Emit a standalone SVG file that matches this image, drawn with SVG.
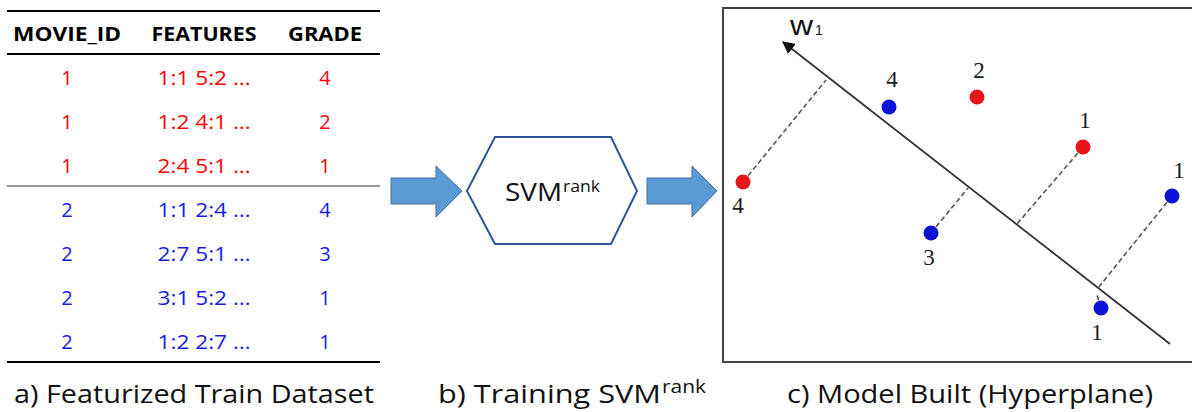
<svg xmlns="http://www.w3.org/2000/svg" width="1192" height="412" viewBox="0 0 1192 412">
<defs>
<style>
.hdr{font-family:"Open Sans","Liberation Sans",sans-serif;font-weight:bold;font-size:20px;fill:#000;text-anchor:middle}
.row{font-family:"Open Sans","Liberation Sans",sans-serif;font-size:20px;text-anchor:middle}
.r{fill:#FF0000}
.b{fill:#1A1AE6}
.cap{font-family:"Open Sans","Liberation Sans",sans-serif;font-size:26px;fill:#111}
.num{font-family:"Liberation Serif","Times New Roman",serif;font-size:23px;fill:#1a1a1a;text-anchor:middle}
.dash{stroke:#555;stroke-width:1.6;stroke-dasharray:5 3;fill:none}
.rd{fill:#E8141C}
.bd{fill:#0B14D6}
.blk{fill:#5B9BD5;stroke:#41719C;stroke-width:1}
</style>
<marker id="ah" viewBox="0 0 10 10" refX="9" refY="5" markerWidth="7" markerHeight="7" orient="auto-start-reverse" markerUnits="strokeWidth">
<path d="M0,0 L10,5 L0,10 z" fill="#111"/>
</marker>
</defs>
<rect width="1192" height="412" fill="#fff"/>

<g id="table">
<line x1="7" y1="11" x2="380" y2="11" stroke="#000" stroke-width="2"/>
<line x1="7" y1="54" x2="380" y2="54" stroke="#000" stroke-width="2"/>
<line x1="7" y1="186" x2="380" y2="186" stroke="#999" stroke-width="2"/>
<line x1="7" y1="362" x2="380" y2="362" stroke="#000" stroke-width="2"/>
<text class="hdr" x="67" y="41" textLength="108" lengthAdjust="spacingAndGlyphs">MOVIE_ID</text>
<text class="hdr" x="204" y="41" textLength="105" lengthAdjust="spacingAndGlyphs">FEATURES</text>
<text class="hdr" x="325" y="41" textLength="74" lengthAdjust="spacingAndGlyphs">GRADE</text>
<g class="row r">
<text x="67" y="85">1</text><text x="204" y="85" textLength="93" lengthAdjust="spacingAndGlyphs">1:1 5:2 …</text><text x="325" y="85">4</text>
<text x="67" y="129">1</text><text x="204" y="129" textLength="93" lengthAdjust="spacingAndGlyphs">1:2 4:1 …</text><text x="325" y="129">2</text>
<text x="67" y="173">1</text><text x="204" y="173" textLength="93" lengthAdjust="spacingAndGlyphs">2:4 5:1 …</text><text x="325" y="173">1</text>
</g>
<g class="row b">
<text x="67" y="217">2</text><text x="204" y="217" textLength="93" lengthAdjust="spacingAndGlyphs">1:1 2:4 …</text><text x="325" y="217">4</text>
<text x="67" y="261">2</text><text x="204" y="261" textLength="93" lengthAdjust="spacingAndGlyphs">2:7 5:1 …</text><text x="325" y="261">3</text>
<text x="67" y="305">2</text><text x="204" y="305" textLength="93" lengthAdjust="spacingAndGlyphs">3:1 5:2 …</text><text x="325" y="305">1</text>
<text x="67" y="349">2</text><text x="204" y="349" textLength="93" lengthAdjust="spacingAndGlyphs">1:2 2:7 …</text><text x="325" y="349">1</text>
</g>
<text class="cap" x="14" y="403" textLength="360" lengthAdjust="spacingAndGlyphs">a) Featurized Train Dataset</text>
</g>

<g id="svmrank">
<polygon points="495,137 611,137 637,191 611,244 495,244 467,191" fill="#fff" stroke="#2F5597" stroke-width="2"/>
<text x="505" y="201" font-family="'Open Sans','Liberation Sans',sans-serif" font-size="25" fill="#111" textLength="57" lengthAdjust="spacingAndGlyphs">SVM</text>
<text x="563" y="192" font-family="'Open Sans','Liberation Sans',sans-serif" font-size="16" fill="#111" textLength="37" lengthAdjust="spacingAndGlyphs">rank</text>
<text class="cap" x="438" y="403" textLength="223" lengthAdjust="spacingAndGlyphs">b) Training SVM</text>
<text x="662" y="393" font-family="'Open Sans','Liberation Sans',sans-serif" font-size="18" fill="#111" textLength="44" lengthAdjust="spacingAndGlyphs">rank</text>
</g>

<g id="connectors">
<polygon class="blk" points="391,178 436,178 436,166 462,191 436,217 436,204 391,204"/>
<polygon class="blk" points="647,178 692,178 692,166 717,191 692,217 692,204 647,204"/>
</g>

<g id="model">
<polyline points="1192,8 723,8 723,362 1192,362" fill="none" stroke="#444" stroke-width="2"/>
<line x1="1170" y1="344" x2="783" y2="42" stroke="#333" stroke-width="1.8" marker-end="url(#ah)"/>
<text x="790" y="35" font-family="'Liberation Sans',sans-serif" font-size="27" fill="#111" textLength="23" lengthAdjust="spacingAndGlyphs">w</text>
<text x="815" y="35" font-family="'Liberation Sans',sans-serif" font-size="14" fill="#111">1</text>
<line class="dash" x1="743" y1="182" x2="826" y2="80"/>
<line class="dash" x1="931" y1="233" x2="968" y2="188"/>
<line class="dash" x1="1083" y1="147" x2="1017" y2="224"/>
<line class="dash" x1="1172" y1="196" x2="1098" y2="288"/>
<line class="dash" x1="1101" y1="308" x2="1097" y2="295"/>
<circle class="rd" cx="743" cy="182" r="7.5"/>
<circle class="bd" cx="889" cy="107" r="7.5"/>
<circle class="rd" cx="977" cy="97" r="7.5"/>
<circle class="rd" cx="1083" cy="147" r="7.5"/>
<circle class="bd" cx="1172" cy="196" r="7.5"/>
<circle class="bd" cx="931" cy="233" r="7.5"/>
<circle class="bd" cx="1101" cy="308" r="7.5"/>
<text class="num" x="738" y="213">4</text>
<text class="num" x="892" y="87">4</text>
<text class="num" x="979" y="78">2</text>
<text class="num" x="1085" y="128">1</text>
<text class="num" x="1179" y="178">1</text>
<text class="num" x="929" y="265">3</text>
<text class="num" x="1097" y="340">1</text>
<text class="cap" x="787" y="403" textLength="366" lengthAdjust="spacingAndGlyphs">c) Model Built (Hyperplane)</text>
</g>
</svg>
